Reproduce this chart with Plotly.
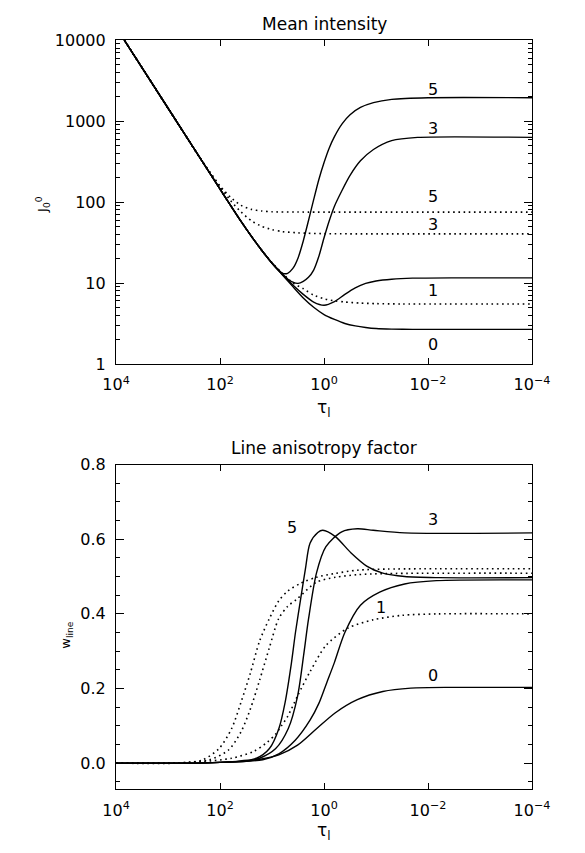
import plotly.graph_objects as go

# ---------------- data ----------------
# top panel: mean intensity J00 vs optical depth tau_l, both given as log10 values
top_s0_lt = [4.0, 3.0, 2.0, 1.6, 1.4, 1.2, 1.0, 0.8, 0.6, 0.4, 0.2, 0.0, -0.2, -0.4, -0.6, -0.8, -1.0, -1.3, -1.7, -2.5, -4.0]
top_s0_lJ = [4.16, 3.16, 2.16, 1.765, 1.58, 1.405, 1.245, 1.10, 0.955, 0.815, 0.70, 0.61, 0.55, 0.50, 0.47, 0.45, 0.437, 0.43, 0.427, 0.427, 0.427]

top_s1_lt = [4.0, 3.0, 2.0, 1.6, 1.4, 1.2, 1.0, 0.8, 0.6, 0.4, 0.2, 0.0, -0.2, -0.4, -0.6, -0.8, -1.0, -1.3, -1.7, -2.5, -4.0]
top_s1_lJ = [4.16, 3.16, 2.16, 1.765, 1.58, 1.405, 1.245, 1.105, 0.975, 0.86, 0.765, 0.725, 0.77, 0.86, 0.94, 0.995, 1.025, 1.047, 1.06, 1.064, 1.064]

top_s3_lt = [4.0, 3.0, 2.0, 1.6, 1.4, 1.2, 1.0, 0.8, 0.7, 0.6, 0.5, 0.4, 0.3, 0.2, 0.1, 0.0, -0.1, -0.2, -0.35, -0.5, -0.7, -0.95, -1.3, -1.8, -4.0]
top_s3_lJ = [4.16, 3.16, 2.16, 1.765, 1.58, 1.405, 1.245, 1.11, 1.05, 1.01, 0.995, 1.02, 1.07, 1.16, 1.33, 1.56, 1.77, 1.95, 2.15, 2.33, 2.51, 2.65, 2.76, 2.80, 2.80]

top_s5_lt = [4.0, 3.0, 2.0, 1.6, 1.4, 1.2, 1.0, 0.8, 0.7, 0.6, 0.5, 0.4, 0.3, 0.2, 0.1, 0.0, -0.1, -0.2, -0.35, -0.5, -0.7, -0.95, -1.3, -2.0, -4.0]
top_s5_lJ = [4.16, 3.16, 2.16, 1.765, 1.58, 1.405, 1.245, 1.12, 1.12, 1.18, 1.31, 1.52, 1.77, 2.03, 2.28, 2.49, 2.67, 2.81, 2.97, 3.08, 3.17, 3.23, 3.27, 3.29, 3.29]

top_d1_lt = [4.0, 3.0, 2.0, 1.6, 1.4, 1.2, 1.0, 0.8, 0.6, 0.4, 0.2, 0.0, -0.2, -0.4, -0.7, -1.0, -1.5, -4.0]
top_d1_lJ = [4.16, 3.16, 2.16, 1.765, 1.58, 1.405, 1.25, 1.12, 1.0, 0.93, 0.85, 0.805, 0.78, 0.765, 0.752, 0.745, 0.741, 0.741]

top_d3_lt = [4.0, 3.0, 2.4, 2.2, 2.0, 1.8, 1.6, 1.4, 1.2, 1.0, 0.8, 0.5, 0.0, -4.0]
top_d3_lJ = [4.16, 3.16, 2.56, 2.37, 2.19, 2.02, 1.88, 1.77, 1.70, 1.66, 1.635, 1.62, 1.61, 1.608]

top_d5_lt = [4.0, 3.0, 2.4, 2.2, 2.0, 1.8, 1.6, 1.4, 1.2, 1.0, 0.5, -4.0]
top_d5_lJ = [4.16, 3.16, 2.56, 2.375, 2.2, 2.06, 1.96, 1.91, 1.89, 1.88, 1.877, 1.876]

# bottom panel: line anisotropy factor w_line vs tau_l (tau as log10)
bot_s0_lt = [4.0, 2.5, 2.0, 1.5, 1.2, 0.87, 0.51, 0.145, -0.218, -0.64, -1.13, -1.67, -2.5, -4.0]
bot_s0_w = [0.0, 0.0, 0.002, 0.006, 0.011, 0.022, 0.048, 0.092, 0.135, 0.170, 0.192, 0.201, 0.203, 0.203]

bot_s1_lt = [4.0, 2.5, 2.0, 1.5, 1.18, 0.87, 0.55, 0.27, 0.1, -0.05, -0.2, -0.4, -0.7, -1.07, -1.55, -2.16, -4.0]
bot_s1_w = [0.0, 0.0, 0.002, 0.005, 0.009, 0.025, 0.062, 0.115, 0.16, 0.215, 0.27, 0.35, 0.423, 0.458, 0.480, 0.489, 0.491]

bot_s3_lt = [4.0, 2.5, 2.0, 1.5, 1.24, 0.93, 0.69, 0.51, 0.39, 0.30, 0.145, -0.036, -0.34, -0.64, -0.945, -1.55, -4.0]
bot_s3_w = [0.0, 0.0, 0.002, 0.005, 0.013, 0.039, 0.092, 0.179, 0.292, 0.385, 0.51, 0.580, 0.620, 0.628, 0.624, 0.617, 0.617]

bot_s5_lt = [4.0, 2.5, 2.0, 1.6, 1.3, 1.05, 0.87, 0.75, 0.63, 0.55, 0.45, 0.36, 0.27, 0.12, 0.024, -0.218, -0.52, -0.82, -1.13, -1.55, -2.2, -4.0]
bot_s5_w = [0.0, 0.0, 0.002, 0.006, 0.013, 0.039, 0.092, 0.162, 0.266, 0.35, 0.44, 0.519, 0.589, 0.618, 0.624, 0.607, 0.563, 0.528, 0.509, 0.500, 0.497, 0.497]

bot_d1_lt = [4.0, 2.8, 2.33, 1.78, 1.36, 1.1, 0.93, 0.82, 0.7, 0.51, 0.27, -0.036, -0.46, -0.945, -1.5, -2.2, -4.0]
bot_d1_w = [0.0, 0.001, 0.004, 0.013, 0.031, 0.055, 0.078, 0.1, 0.125, 0.18, 0.245, 0.315, 0.362, 0.384, 0.396, 0.400, 0.400]

bot_d3_lt = [4.0, 2.8, 2.2, 1.84, 1.6, 1.42, 1.24, 1.05, 0.87, 0.7, 0.51, 0.145, -0.22, -0.64, -1.2, -4.0]
bot_d3_w = [0.0, 0.0, 0.009, 0.035, 0.083, 0.144, 0.222, 0.310, 0.388, 0.42, 0.441, 0.485, 0.498, 0.505, 0.508, 0.509]

bot_d5_lt = [4.0, 3.0, 2.6, 2.33, 2.02, 1.78, 1.6, 1.42, 1.24, 1.05, 0.87, 0.69, 0.45, 0.15, -0.2, -0.64, -1.2, -4.0]
bot_d5_w = [0.0, 0.0, 0.002, 0.009, 0.039, 0.092, 0.162, 0.240, 0.327, 0.388, 0.435, 0.462, 0.482, 0.498, 0.508, 0.517, 0.520, 0.521]

x_tickvals = [1e4, 1e2, 1e0, 1e-2, 1e-4]
x_ticktext = ["10<sup>4</sup>", "10<sup>2</sup>", "10<sup>0</sup>", "10<sup>−2</sup>", "10<sup>−4</sup>"]
top_y_tickvals = [1, 10, 100, 1000, 10000]
top_y_ticktext = ["1", "10", "100", "1000", "10000"]
bot_y_tickvals = [0.0, 0.2, 0.4, 0.6, 0.8]
bot_y_ticktext = ["0.0", "0.2", "0.4", "0.6", "0.8"]

# ---------------- figure ----------------
FONT = "DejaVu Sans"
fig = go.Figure()


def pw(vals):
    return [10 ** v for v in vals]


solid = dict(color="black", width=1.4)
dotted = dict(color="black", width=1.6, dash="1.6px,3.6px")

for lt, y in [(top_s0_lt, top_s0_lJ), (top_s1_lt, top_s1_lJ), (top_s3_lt, top_s3_lJ), (top_s5_lt, top_s5_lJ)]:
    fig.add_trace(go.Scatter(x=pw(lt), y=pw(y), mode="lines", line=dict(**solid, shape="spline", smoothing=0.7),
                             xaxis="x", yaxis="y", showlegend=False))
for lt, y in [(top_d1_lt, top_d1_lJ), (top_d3_lt, top_d3_lJ), (top_d5_lt, top_d5_lJ)]:
    fig.add_trace(go.Scatter(x=pw(lt), y=pw(y), mode="lines", line=dict(**dotted, shape="spline", smoothing=0.7),
                             xaxis="x", yaxis="y", showlegend=False))
for lt, y in [(bot_s0_lt, bot_s0_w), (bot_s1_lt, bot_s1_w), (bot_s3_lt, bot_s3_w), (bot_s5_lt, bot_s5_w)]:
    fig.add_trace(go.Scatter(x=pw(lt), y=y, mode="lines", line=dict(**solid, shape="spline", smoothing=0.8),
                             xaxis="x2", yaxis="y2", showlegend=False))
for lt, y in [(bot_d1_lt, bot_d1_w), (bot_d3_lt, bot_d3_w), (bot_d5_lt, bot_d5_w)]:
    fig.add_trace(go.Scatter(x=pw(lt), y=y, mode="lines", line=dict(**dotted, shape="spline", smoothing=0.8),
                             xaxis="x2", yaxis="y2", showlegend=False))

W, H = 585, 853
xl, xr = 108, 548
top_t, top_b = 32, 363
bot_t, bot_b = 466, 798
xdom = [xl / W, xr / W]

axis_common = dict(showgrid=False, zeroline=False, showline=True, linecolor="black", linewidth=1.4,
                   mirror="ticks", ticks="inside", tickcolor="black", tickwidth=1.2,
                   tickfont=dict(family=FONT, size=16, color="black"))

xaxis_common = dict(axis_common, type="log", range=[4, -4], tickmode="array", tickvals=x_tickvals,
                    ticktext=x_ticktext, ticklen=6, ticklabelstandoff=6)

top_minor = [m * 10 ** e for e in range(0, 4) for m in range(2, 10)]
bot_minor = [round(-0.05 + 0.05 * i, 2) for i in range(0, 18)]

fig.update_layout(
    width=W, height=H, margin=dict(l=0, r=0, t=0, b=0),
    paper_bgcolor="white", plot_bgcolor="white",
    xaxis=dict(xaxis_common, domain=xdom, anchor="y"),
    yaxis=dict(axis_common, type="log", range=[0, 4], domain=[1 - top_b / H, 1 - top_t / H], anchor="x",
               tickmode="array", tickvals=top_y_tickvals, ticktext=top_y_ticktext, ticklen=8,
               ticklabelstandoff=6,
               minor=dict(ticks="inside", ticklen=4, tickcolor="black", tickwidth=1.0,
                          tickmode="array", tickvals=top_minor, showgrid=False)),
    xaxis2=dict(xaxis_common, domain=xdom, anchor="y2"),
    yaxis2=dict(axis_common, range=[-0.07, 0.8], domain=[1 - bot_b / H, 1 - bot_t / H], anchor="x2",
                tickmode="array", tickvals=bot_y_tickvals, ticktext=bot_y_ticktext, ticklen=8,
                ticklabelstandoff=6,
                minor=dict(ticks="inside", ticklen=4, tickcolor="black", tickwidth=1.0,
                           tickmode="array", tickvals=bot_minor, showgrid=False)),
)


def ann(text, x, y, size=16, angle=0):
    fig.add_annotation(text=text, x=x / W, y=1 - y / H, xref="paper", yref="paper",
                       showarrow=False, textangle=angle, xanchor="center", yanchor="middle",
                       font=dict(family=FONT, size=size, color="black"))


# titles
ann("Mean intensity", 328, 15, size=17)
ann("Line anisotropy factor", 328, 449, size=17)
# axis titles
ann("τ<sub>l</sub>", 328, 409, size=17)
ann("τ<sub>l</sub>", 328, 841, size=17)
ann("J<sub>0</sub><sup>0</sup>", 30, 200, size=13, angle=-90)
ann("w<sub>line</sub>", 56, 640, size=13, angle=-90)

# curve labels, top panel
ann("5", 443, 82)
ann("3", 443, 122)
ann("5", 443, 192)
ann("3", 443, 220)
ann("1", 443, 288)
ann("0", 443, 343)
# curve labels, bottom panel
ann("5", 294, 530)
ann("3", 443, 522)
ann("1", 388, 612)
ann("0", 443, 682)

fig.write_html("out.html")
